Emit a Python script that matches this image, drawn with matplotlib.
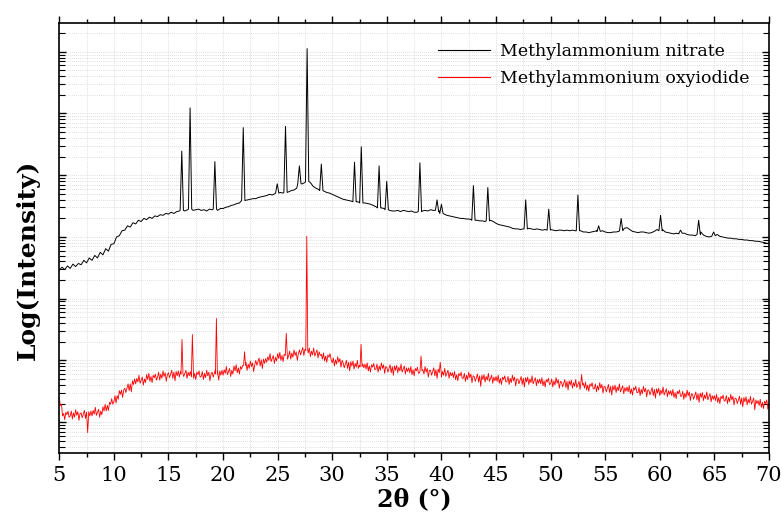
import numpy as np
import matplotlib
matplotlib.use("Agg")
import matplotlib.pyplot as plt
from matplotlib.lines import Line2D
from matplotlib.ticker import MultipleLocator, LogLocator, NullFormatter

# ---------------- data (log10 of intensity, arbitrary units) ----------------
# Methylammonium nitrate: background read every 0.25 deg from 5 to 70
nit_bg_log = [
    2.46, 2.51, 2.47, 2.53, 2.49, 2.56, 2.52, 2.57, 2.55, 2.62, 2.58, 2.66,
    2.62, 2.70, 2.66, 2.75, 2.71, 2.81, 2.77, 2.88, 2.89, 3.00, 3.02, 3.10,
    3.11, 3.18, 3.16, 3.23, 3.21, 3.27, 3.25, 3.30, 3.28, 3.32, 3.30, 3.34,
    3.33, 3.36, 3.35, 3.38, 3.37, 3.40, 3.38, 3.41, 3.42, 3.43, 3.42, 3.44,
    3.45, 3.43, 3.44, 3.45, 3.43, 3.44, 3.42, 3.45, 3.44, 3.45, 3.43, 3.46,
    3.46, 3.48, 3.49, 3.51, 3.52, 3.54, 3.55, 3.57, 3.59, 3.60, 3.61, 3.62,
    3.62, 3.64, 3.65, 3.66, 3.67, 3.69, 3.68, 3.70, 3.71, 3.72, 3.71, 3.73,
    3.73, 3.75, 3.76, 3.79, 3.84, 3.86, 3.88, 3.92, 3.88, 3.82, 3.79, 3.77,
    3.75, 3.74, 3.72, 3.71, 3.69, 3.67, 3.65, 3.63, 3.61, 3.60, 3.59, 3.58,
    3.57, 3.57, 3.56, 3.55, 3.55, 3.54, 3.53, 3.51, 3.49, 3.48, 3.47, 3.46,
    3.45, 3.43, 3.42, 3.42, 3.43, 3.41, 3.43, 3.42, 3.41, 3.42, 3.40, 3.40,
    3.41, 3.42, 3.43, 3.42, 3.44, 3.43, 3.43, 3.41, 3.40, 3.37, 3.35, 3.34,
    3.33, 3.32, 3.31, 3.30, 3.30, 3.29, 3.29, 3.28, 3.28, 3.27, 3.26, 3.26,
    3.25, 3.26, 3.27, 3.25, 3.22, 3.20, 3.19, 3.18, 3.17, 3.16, 3.14, 3.13,
    3.13, 3.12, 3.13, 3.14, 3.14, 3.13, 3.12, 3.13, 3.12, 3.11, 3.12, 3.12,
    3.12, 3.11, 3.10, 3.11, 3.11, 3.10, 3.11, 3.10, 3.11, 3.10, 3.09, 3.10,
    3.08, 3.08, 3.07, 3.08, 3.09, 3.10, 3.13, 3.10, 3.08, 3.07, 3.07, 3.08,
    3.08, 3.09, 3.11, 3.14, 3.15, 3.12, 3.09, 3.08, 3.07, 3.08, 3.08, 3.07,
    3.06, 3.07, 3.09, 3.12, 3.16, 3.12, 3.08, 3.07, 3.06, 3.05, 3.06, 3.05,
    3.08, 3.06, 3.04, 3.03, 3.03, 3.02, 3.04, 3.08, 3.03, 3.01, 3.00, 3.01,
    3.07, 3.04, 3.01, 3.00, 2.99, 2.98, 2.98, 2.97, 2.97, 2.96, 2.96, 2.95,
    2.95, 2.94, 2.94, 2.93, 2.93, 2.92, 2.91, 2.90, 2.89,
]
nit_bg_x = np.linspace(5.0, 70.0, len(nit_bg_log))
nit_peak_x = [16.22, 16.98, 19.25, 21.85, 24.96, 25.72, 26.99, 27.70, 29.00,
              32.04, 32.66, 34.29, 34.99, 38.03, 39.60, 40.00, 42.93, 44.25,
              47.72, 49.83, 52.50, 54.40, 56.46, 60.07, 61.90, 63.56, 64.93]
nit_peak_log = [4.39, 5.09, 4.22, 4.77, 3.86, 4.79, 4.15, 6.05, 4.18,
                4.21, 4.46, 4.15, 3.90, 4.20, 3.60, 3.53, 3.83, 3.80,
                3.60, 3.45, 3.68, 3.18, 3.30, 3.35, 3.11, 3.27, 3.08]
nit_peak_foot = [3.43, 3.45, 3.45, 3.59, 3.71, 3.72, 3.86, 3.90, 3.75,
                 3.57, 3.55, 3.47, 3.44, 3.41, 3.43, 3.38, 3.27, 3.26,
                 3.13, 3.11, 3.10, 3.09, 3.10, 3.10, 3.06, 3.04, 3.02]

# Methylammonium oxyiodide: noisy background read every 0.1 deg from 5 to 70
oxy_bg_log = [
    0.40, 0.27, 0.29, 0.10, 0.14, 0.04, 0.16, 0.12, 0.18, 0.08,
    0.10, 0.18, 0.05, 0.15, 0.08, 0.20, 0.11, 0.17, 0.03, 0.14,
    0.15, 0.07, 0.13, 0.19, 0.06, 0.16, -0.17, 0.17, 0.10, 0.18,
    0.10, 0.19, 0.13, 0.24, 0.11, 0.16, 0.21, 0.08, 0.18, 0.12,
    0.25, 0.18, 0.29, 0.18, 0.27, 0.19, 0.32, 0.29, 0.38, 0.29,
    0.33, 0.43, 0.31, 0.43, 0.37, 0.51, 0.45, 0.52, 0.40, 0.52,
    0.55, 0.48, 0.55, 0.62, 0.51, 0.62, 0.49, 0.67, 0.61, 0.70,
    0.62, 0.71, 0.65, 0.76, 0.63, 0.68, 0.73, 0.60, 0.70, 0.64,
    0.77, 0.69, 0.79, 0.66, 0.74, 0.64, 0.76, 0.72, 0.78, 0.68,
    0.73, 0.81, 0.68, 0.78, 0.71, 0.83, 0.74, 0.80, 0.66, 0.77,
    0.80, 0.72, 0.78, 0.84, 0.71, 0.81, 0.67, 0.82, 0.75, 0.83,
    0.73, 0.82, 0.76, 0.87, 0.74, 0.79, 0.84, 0.71, 0.81, 0.75,
    0.82, 0.74, 0.84, 0.71, 0.79, 0.69, 0.81, 0.77, 0.83, 0.73,
    0.74, 0.82, 0.69, 0.79, 0.72, 0.84, 0.75, 0.81, 0.67, 0.78,
    0.81, 0.73, 0.79, 0.85, 0.72, 0.82, 0.68, 0.83, 0.76, 0.84,
    0.76, 0.85, 0.79, 0.90, 0.77, 0.82, 0.87, 0.74, 0.84, 0.78,
    0.91, 0.83, 0.93, 0.80, 0.88, 0.78, 0.90, 0.86, 0.92, 0.82,
    0.89, 0.97, 0.84, 0.94, 0.87, 0.99, 0.90, 0.96, 0.82, 0.93,
    1.00, 0.92, 0.98, 1.04, 0.91, 1.01, 0.87, 1.02, 0.95, 1.03,
    0.97, 1.06, 1.00, 1.11, 0.98, 1.03, 1.08, 0.95, 1.05, 0.99,
    1.11, 1.03, 1.13, 1.00, 1.08, 0.98, 1.10, 1.06, 1.12, 1.02,
    1.07, 1.15, 1.02, 1.12, 1.05, 1.17, 1.08, 1.14, 1.00, 1.11,
    1.17, 1.09, 1.15, 1.21, 1.08, 1.18, 1.12, 1.19, 1.12, 1.20,
    1.06, 1.15, 1.09, 1.20, 1.07, 1.12, 1.17, 1.04, 1.14, 1.08,
    1.10, 1.02, 1.12, 0.99, 1.07, 0.97, 1.09, 1.05, 1.11, 1.01,
    0.96, 1.04, 0.91, 1.01, 0.94, 1.06, 0.97, 1.03, 0.89, 1.00,
    0.96, 0.88, 0.94, 1.00, 0.87, 0.97, 0.83, 0.98, 0.91, 0.99,
    0.86, 0.95, 0.89, 1.00, 0.87, 0.92, 0.97, 0.84, 0.94, 0.88,
    0.94, 0.86, 0.96, 0.83, 0.91, 0.81, 0.93, 0.89, 0.95, 0.85,
    0.86, 0.94, 0.81, 0.91, 0.84, 0.96, 0.87, 0.93, 0.79, 0.90,
    0.89, 0.81, 0.87, 0.93, 0.80, 0.90, 0.76, 0.91, 0.84, 0.92,
    0.80, 0.89, 0.83, 0.94, 0.81, 0.86, 0.91, 0.78, 0.88, 0.82,
    0.88, 0.80, 0.90, 0.77, 0.85, 0.75, 0.87, 0.83, 0.89, 0.79,
    0.80, 0.88, 0.75, 0.85, 0.78, 0.90, 0.81, 0.87, 0.73, 0.84,
    0.84, 0.76, 0.82, 0.88, 0.75, 0.85, 0.71, 0.86, 0.79, 0.87,
    0.73, 0.82, 0.76, 0.87, 0.74, 0.79, 0.84, 0.71, 0.81, 0.75,
    0.80, 0.72, 0.82, 0.69, 0.77, 0.67, 0.79, 0.75, 0.81, 0.71,
    0.71, 0.79, 0.66, 0.76, 0.69, 0.81, 0.72, 0.78, 0.64, 0.75,
    0.74, 0.66, 0.72, 0.78, 0.65, 0.75, 0.58, 0.76, 0.69, 0.77,
    0.65, 0.74, 0.68, 0.79, 0.66, 0.71, 0.76, 0.63, 0.73, 0.67,
    0.74, 0.66, 0.76, 0.63, 0.71, 0.61, 0.73, 0.69, 0.75, 0.65,
    0.66, 0.74, 0.61, 0.71, 0.64, 0.76, 0.67, 0.73, 0.59, 0.70,
    0.70, 0.62, 0.68, 0.74, 0.61, 0.71, 0.57, 0.72, 0.65, 0.73,
    0.61, 0.70, 0.64, 0.75, 0.62, 0.67, 0.72, 0.59, 0.69, 0.63,
    0.70, 0.62, 0.72, 0.59, 0.67, 0.57, 0.69, 0.65, 0.71, 0.61,
    0.62, 0.70, 0.57, 0.67, 0.60, 0.72, 0.63, 0.69, 0.55, 0.66,
    0.65, 0.57, 0.63, 0.69, 0.56, 0.66, 0.52, 0.67, 0.60, 0.68,
    0.55, 0.64, 0.58, 0.69, 0.56, 0.61, 0.66, 0.53, 0.63, 0.57,
    0.63, 0.55, 0.65, 0.52, 0.60, 0.50, 0.62, 0.58, 0.64, 0.54,
    0.54, 0.62, 0.49, 0.59, 0.52, 0.64, 0.55, 0.61, 0.47, 0.58,
    0.57, 0.49, 0.55, 0.61, 0.48, 0.58, 0.44, 0.59, 0.52, 0.60,
    0.48, 0.57, 0.51, 0.62, 0.49, 0.54, 0.59, 0.46, 0.56, 0.50,
    0.57, 0.49, 0.59, 0.46, 0.54, 0.44, 0.56, 0.52, 0.58, 0.48,
    0.48, 0.56, 0.43, 0.53, 0.46, 0.58, 0.49, 0.55, 0.41, 0.52,
    0.52, 0.44, 0.50, 0.56, 0.43, 0.53, 0.39, 0.54, 0.47, 0.55,
    0.43, 0.52, 0.46, 0.57, 0.44, 0.49, 0.54, 0.41, 0.51, 0.45,
    0.51, 0.43, 0.53, 0.40, 0.48, 0.38, 0.50, 0.46, 0.52, 0.42,
    0.42, 0.50, 0.37, 0.47, 0.40, 0.52, 0.43, 0.49, 0.35, 0.46,
    0.45, 0.37, 0.43, 0.49, 0.36, 0.46, 0.32, 0.47, 0.40, 0.48,
    0.35, 0.44, 0.38, 0.49, 0.36, 0.41, 0.46, 0.33, 0.43, 0.37,
    0.43, 0.35, 0.45, 0.32, 0.40, 0.30, 0.42, 0.38, 0.44, 0.34,
    0.35, 0.43, 0.30, 0.40, 0.33, 0.45, 0.36, 0.42, 0.28, 0.39,
    0.38, 0.30, 0.36, 0.42, 0.29, 0.39, 0.25, 0.40, 0.33, 0.41,
    0.28, 0.37, 0.31, 0.42, 0.29, 0.34, 0.39, 0.20, 0.36, 0.30,
    0.35, 0.27, 0.37, 0.24, 0.32, 0.22, 0.34, 0.30, 0.36, 0.21,
    0.27,
]
oxy_bg_x = np.linspace(5.0, 70.0, len(oxy_bg_log))
oxy_peak_x = [16.24, 17.19, 19.39, 21.97, 25.79, 27.67, 32.64, 38.13, 39.89, 52.84]
oxy_peak_log = [1.34, 1.42, 1.68, 1.14, 1.44, 3.01, 1.26, 1.07, 0.97, 0.77]
oxy_peak_foot = [0.78, 0.78, 0.78, 0.92, 1.08, 1.16, 0.90, 0.83, 0.80, 0.60]

series_names = ["Methylammonium nitrate", "Methylammonium oxyiodide"]
series_colors = ["black", "red"]


def build(bg_x, bg_log, pk_x, pk_log, pk_foot, hw):
    bg_x = np.asarray(bg_x, float)
    bg_log = np.asarray(bg_log, float)
    keep = np.ones(len(bg_x), bool)
    for p in pk_x:
        keep &= ~((bg_x > p - hw) & (bg_x < p + hw))
    xs = list(bg_x[keep])
    ys = list(bg_log[keep])
    for p, t, f in zip(pk_x, pk_log, pk_foot):
        xs += [p - hw, p, p + hw]
        ys += [f, t, f]
    xs = np.asarray(xs)
    ys = np.asarray(ys)
    o = np.argsort(xs, kind="stable")
    return xs[o], 10.0 ** ys[o]


nx, ny = build(nit_bg_x, nit_bg_log, nit_peak_x, nit_peak_log, nit_peak_foot, 0.15)
ox, oy = build(oxy_bg_x, oxy_bg_log, oxy_peak_x, oxy_peak_log, oxy_peak_foot, 0.09)

# ---------------- figure ----------------
plt.rcParams["font.family"] = ["DejaVu Serif"]
fig = plt.figure(figsize=(7.81, 5.25), dpi=100)
ax = fig.add_axes([0.0759, 0.1371, 0.9087, 0.8197])

ax.plot(nx, ny, color=series_colors[0], lw=0.7)
ax.plot(ox, oy, color=series_colors[1], lw=0.6)

ax.set_yscale("log")
ax.set_xlim(5, 70)
ax.set_ylim(10 ** -0.5, 10 ** 6.47)

ax.xaxis.set_major_locator(MultipleLocator(5))
ax.xaxis.set_minor_locator(MultipleLocator(2.5))
ax.yaxis.set_major_locator(LogLocator(base=10, numticks=20))
ax.yaxis.set_minor_locator(LogLocator(base=10, subs=np.arange(2, 10), numticks=20))
ax.yaxis.set_major_formatter(NullFormatter())
ax.yaxis.set_minor_formatter(NullFormatter())

ax.grid(True, which="both", color="#d4d4d4", lw=0.6, ls=(0, (1, 1.5)))
ax.set_axisbelow(True)

ax.tick_params(axis="x", which="major", direction="out", length=5, width=1,
               top=True, labelsize=15, pad=4)
ax.tick_params(axis="x", which="minor", direction="out", length=3, width=1, top=True)
ax.tick_params(axis="y", which="major", direction="in", length=5, width=1,
               left=True, right=True)
ax.tick_params(axis="y", which="minor", direction="in", length=4, width=0.8,
               left=True, right=True)
for s in ax.spines.values():
    s.set_linewidth(1.2)

ax.set_xlabel("2θ (°)", fontsize=17, fontweight="bold", labelpad=2)
ax.set_ylabel("Log(Intensity)", fontsize=18, fontweight="bold")
ax.yaxis.set_label_coords(-0.027, 0.45)

handles = [Line2D([], [], color=c, lw=0.8) for c in series_colors]
ax.legend(handles, series_names, loc="upper right", frameon=False, fontsize=12.5,
          handlelength=3.0, handletextpad=0.6, labelspacing=0.6,
          bbox_to_anchor=(0.995, 0.99))

fig.savefig("out.png", dpi=100)
